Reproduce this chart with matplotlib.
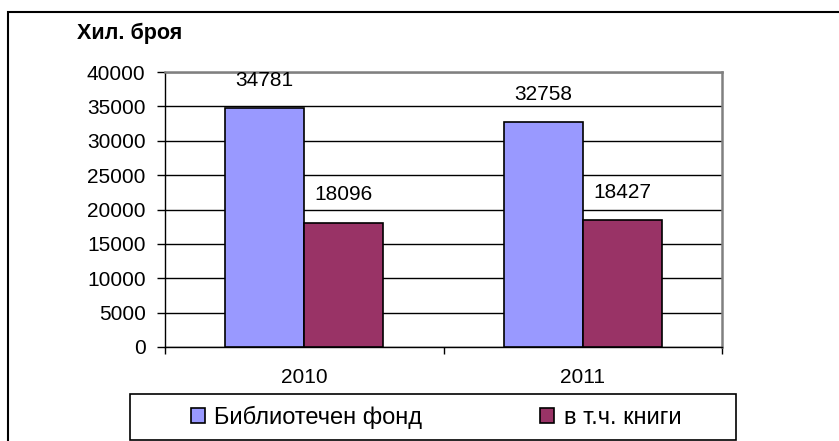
import numpy as np
import matplotlib.pyplot as plt
from matplotlib.patches import Rectangle

plt.rcParams['font.family'] = ['Liberation Sans', 'DejaVu Sans']

years = ["2010", "2011"]
fond = [34781, 32758]
knigi = [18096, 18427]
series_names = ["Библиотечен фонд", "в т.ч. книги"]
y_label = "Хил. броя"

W, H = 839, 441
fig = plt.figure(figsize=(W / 100, H / 100), dpi=100)
ax = fig.add_axes([165 / W, 1 - 347 / H, 557 / W, 275 / H])

x = np.arange(len(years))
bw = 0.284
b1 = ax.bar(x - bw / 2, fond, bw, color='#9999FF', edgecolor='black', linewidth=1.2,
            label=series_names[0], zorder=3)
b2 = ax.bar(x + bw / 2, knigi, bw, color='#993366', edgecolor='black', linewidth=1.2,
            label=series_names[1], zorder=3)

for bars, vals in ((b1, fond), (b2, knigi)):
    for r, v in zip(bars, vals):
        ax.annotate(str(v), (r.get_x() + r.get_width() / 2, v), xytext=(0, 20),
                    textcoords='offset points', ha='center', va='center', fontsize=15)

ax.set_xlim(-0.5, 1.5)
ax.set_ylim(0, 40000)
ax.set_yticks(np.arange(0, 40001, 5000))
ax.yaxis.grid(True, color='black', linewidth=1, zorder=0)
ax.set_axisbelow(True)
ax.tick_params(axis='y', labelsize=15, length=6, width=1, pad=8)

ax.set_xticks(x)
ax.set_xticklabels(years)
ax.set_xticks([-0.5, 0.5, 1.5], minor=True)
ax.tick_params(axis='x', which='major', length=0, labelsize=15, pad=15)
ax.tick_params(axis='x', which='minor', length=5, width=1)

for s in ('top', 'right'):
    ax.spines[s].set_color('#808080')
    ax.spines[s].set_linewidth(1.8)
for s in ('left', 'bottom'):
    ax.spines[s].set_color('black')
    ax.spines[s].set_linewidth(1)

fig.text(77 / W, 1 - 39 / H, y_label, fontsize=15.5, fontweight='bold', va='baseline')

# outer chart frame (runs past the right and bottom edges)
fig.patches.append(Rectangle((8 / W, -0.2), 1.0, 1.2 - 12 / H, transform=fig.transFigure,
                             fill=False, edgecolor='black', linewidth=1.5))
# legend frame
fig.patches.append(Rectangle((130 / W, 1 - 440 / H), 606 / W, 46 / H, transform=fig.transFigure,
                             fill=False, edgecolor='black', linewidth=1.2))

fig.legend(handles=[b1, b2], loc='center', bbox_to_anchor=(436 / W, 1 - 417 / H),
           ncol=2, frameon=False, fontsize=17, handlelength=0.6, handleheight=0.6,
           handletextpad=0.4, columnspacing=5.0, borderaxespad=0)

fig.savefig('out.png', dpi=100)
